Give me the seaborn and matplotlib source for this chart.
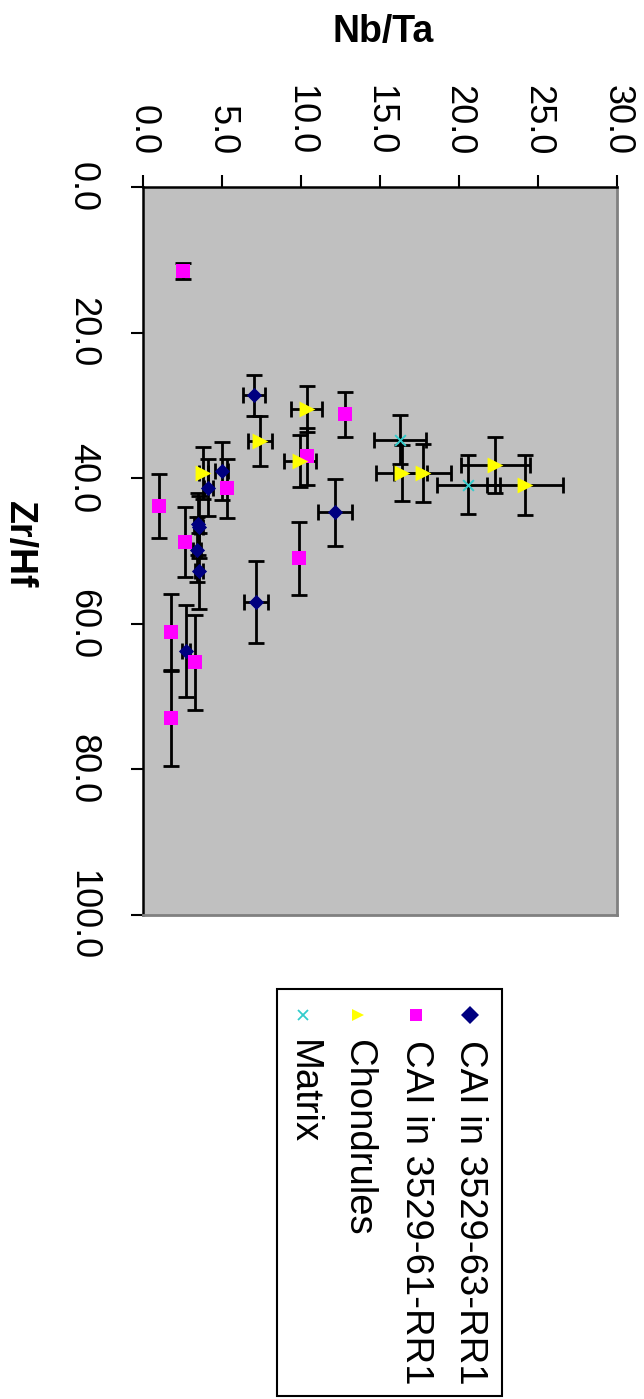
import matplotlib
matplotlib.use("Agg")
import matplotlib.pyplot as plt
from matplotlib.lines import Line2D
from matplotlib.patches import Rectangle
import seaborn as sns

# --- data ---
series_names = ["CAI in 3529-63-RR1", "CAI in 3529-61-RR1", "Chondrules", "Matrix"]

cai63_nbta = [7.03, 4.98, 4.13, 3.50, 3.55, 3.40, 3.57, 12.15, 7.15, 2.70]
cai63_zrhf = [28.6, 39.0, 41.3, 46.3, 46.7, 49.8, 52.7, 44.7, 57.0, 63.7]
cai63_nbta_err = [0.7, 0.4, 0.3, 0.25, 0.25, 0.25, 0.25, 1.05, 0.77, 0.25]
cai63_zrhf_err = [2.8, 4.0, 3.9, 4.3, 4.3, 4.5, 5.2, 4.6, 5.6, 6.3]

cai61_nbta = [2.51, 12.78, 10.36, 5.30, 1.01, 2.66, 9.87, 1.75, 3.29, 1.75]
cai61_zrhf = [11.6, 31.2, 37.0, 41.4, 43.8, 48.8, 51.0, 61.1, 65.3, 73.0]
cai61_zrhf_err = [1.1, 3.1, 3.9, 4.1, 4.4, 4.8, 5.0, 5.2, 6.5, 6.5]

chon_nbta = [10.36, 7.41, 9.94, 3.82, 16.37, 17.70, 22.30, 24.20]
chon_zrhf = [30.5, 34.9, 37.6, 39.3, 39.3, 39.3, 38.2, 40.9]
chon_nbta_err = [1.0, 0.76, 1.0, 0.3, 1.6, 1.8, 2.2, 2.4]
chon_zrhf_err = [3.1, 3.4, 3.6, 3.6, 3.8, 4.0, 3.8, 4.1]

matrix_nbta = [16.27, 20.60]
matrix_zrhf = [34.7, 40.9]
matrix_nbta_err = [1.65, 2.0]
matrix_zrhf_err = [3.4, 4.05]

nbta_ticks = [0, 5, 10, 15, 20, 25, 30]
zrhf_ticks = [0, 20, 40, 60, 80, 100]

# --- style ---
sns.set_style("ticks")
plt.rcParams["font.family"] = ["Liberation Sans", "DejaVu Sans"]
plt.rcParams["text.color"] = "black"
plt.rcParams["xtick.color"] = "black"
plt.rcParams["ytick.color"] = "black"

W, H = 644, 1399
fig = plt.figure(figsize=(W / 100, H / 100), dpi=100)

def fx(px):
    return px / W

def fy(py):
    return 1 - py / H

# chart is drawn turned a quarter turn clockwise: Nb/Ta across the top, Zr/Hf down the left
ax = fig.add_axes([fx(143), fy(915), fx(617) - fx(143), fy(187) - fy(915)])
ax.set_facecolor("#C0C0C0")

groups = [
    (cai63_nbta, cai63_zrhf, cai63_nbta_err, cai63_zrhf_err, "D", "#000080", 60),
    (cai61_nbta, cai61_zrhf, None, cai61_zrhf_err, "s", "#FF00FF", 100),
    (chon_nbta, chon_zrhf, chon_nbta_err, chon_zrhf_err, ">", "#FFFF00", 130),
    (matrix_nbta, matrix_zrhf, matrix_nbta_err, matrix_zrhf_err, "x", "#33CCCC", 60),
]

for xs, ys, xe, ye, mk, col, size in groups:
    ax.errorbar(xs, ys, xerr=xe, yerr=ye, fmt="none", ecolor="black",
                elinewidth=2, capsize=6, capthick=2, zorder=2)
    if mk == "x":
        sns.scatterplot(x=xs, y=ys, marker=mk, color=col, s=size, linewidth=1.4,
                        ax=ax, zorder=3, legend=False)
    else:
        sns.scatterplot(x=xs, y=ys, marker=mk, color=col, s=size, linewidth=0,
                        ax=ax, zorder=3, legend=False)

ax.set_xlim(0, 30)
ax.set_ylim(100, 0)
ax.xaxis.tick_top()
ax.set_xticks(nbta_ticks)
ax.set_xticklabels([f"{v:.1f}" for v in nbta_ticks], rotation=-90, fontsize=26)
ax.set_yticks(zrhf_ticks)
ax.set_yticklabels([f"{v:.1f}" for v in zrhf_ticks], rotation=-90, fontsize=26, va="center")
ax.tick_params(axis="x", direction="out", length=9, width=1.5, pad=14)
ax.tick_params(axis="y", direction="out", length=9, width=1.5, pad=22)
ax.set_xlabel("")
ax.set_ylabel("")

for side in ["top", "left"]:
    ax.spines[side].set_color("black")
    ax.spines[side].set_linewidth(1.8)
for side in ["right", "bottom"]:
    ax.spines[side].set_visible(True)
    ax.spines[side].set_color("#808080")
    ax.spines[side].set_linewidth(2)

fig.text(fx(383), fy(32), "Nb/Ta", fontsize=27, fontweight="bold", ha="center", va="center")
fig.text(fx(19), fy(545), "Zr/Hf", fontsize=27, fontweight="bold", rotation=-90,
         ha="center", va="center")

# --- legend, drawn by hand so its text can turn with the chart ---
fig.add_artist(Rectangle((fx(277), fy(1396)), fx(502) - fx(277), fy(989) - fy(1396),
                         transform=fig.transFigure, facecolor="white",
                         edgecolor="black", linewidth=1.5))
leg_x = [470, 416, 358, 303]
for (xs, ys, xe, ye, mk, col, size), name, lx in zip(groups, series_names, leg_x):
    fig.add_artist(Line2D([fx(lx)], [fy(1015)], marker=mk, color=col, linestyle="none",
                          markersize=(9 if mk != "x" else 7), markeredgewidth=(0 if mk != "x" else 1.3),
                          transform=fig.transFigure))
    fig.text(fx(lx), fy(1040), name, fontsize=27.5, rotation=-90, ha="center", va="top")

fig.savefig("out.png", dpi=100)
